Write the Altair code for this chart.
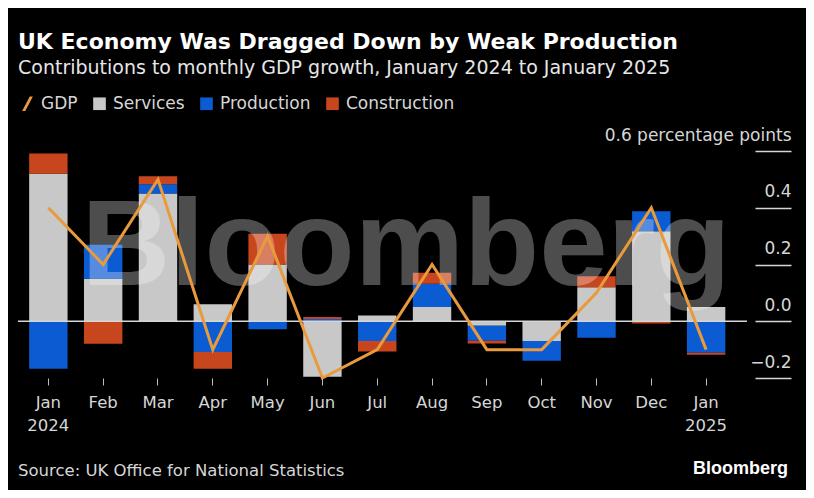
import altair as alt
import pandas as pd

months = ["Jan 2024", "Feb", "Mar", "Apr", "May", "Jun", "Jul", "Aug", "Sep", "Oct", "Nov", "Dec", "Jan 2025"]
services = [0.52, 0.15, 0.45, 0.06, 0.20, -0.196, 0.02, 0.05, -0.016, -0.07, 0.12, 0.317, 0.05]
production = [-0.167, 0.12, 0.033, -0.108, -0.028, 0.008, -0.07, 0.082, -0.053, -0.069, -0.058, 0.071, -0.111]
construction = [0.071, -0.079, 0.028, -0.059, 0.108, 0.007, -0.037, 0.039, -0.009, 0.0, 0.039, -0.008, -0.007]
gdp = [0.4, 0.2, 0.5, -0.1, 0.3, -0.2, -0.1, 0.2, -0.1, -0.1, 0.1, 0.4, -0.1]

series_names = ["GDP", "Services", "Production", "Construction"]
series_colors = ["#e89a3c", "#c8c8c8", "#0b5bd3", "#c8461e"]
y_ticks = [-0.2, 0.0, 0.2, 0.4, 0.6]

rows = []
for i, m in enumerate(months):
    rows.append({"month": m, "series": "Services", "order": 1, "value": services[i]})
    rows.append({"month": m, "series": "Production", "order": 2, "value": production[i]})
    rows.append({"month": m, "series": "Construction", "order": 3, "value": construction[i]})
bars_df = pd.DataFrame(rows)
gdp_df = pd.DataFrame({"month": months, "value": gdp, "series": ["GDP"] * len(months)})

FONT = "DejaVu Sans"
W, H = 729, 227

slash = "M-0.85,1.15 L0.35,-1.15 L0.85,-1.15 L-0.35,1.15 Z"
legend_def = dict(
    title=None, orient="none", legendX=1, legendY=-56, direction="horizontal",
    labelFont=FONT, labelFontSize=17, labelColor="#d6d6d6", symbolSize=160,
    symbolOpacity=1, columnPadding=13, labelOffset=5, padding=0, symbolStrokeWidth=0,
)

x_enc = alt.X(
    "month:N",
    sort=months,
    scale=alt.Scale(paddingInner=0.3, paddingOuter=0.3, align=0.34),
    axis=alt.Axis(
        title=None, domain=False, ticks=True, tickSize=7, tickColor="#bdbdbd", tickWidth=1,
        labelAngle=0, labelExpr="split(datum.value, ' ')", labelFont=FONT, labelFontSize=16.5,
        labelColor="#d6d6d6", labelPadding=9, labelLineHeight=23,
    ),
)
y_scale = alt.Scale(domain=[-0.2, 0.6], nice=False, zero=False)
color_scale = alt.Scale(domain=series_names, range=series_colors)
color_enc = alt.Color("series:N", scale=color_scale, legend=alt.Legend(**legend_def))

bars = alt.Chart(bars_df).mark_bar(size=38.4).encode(
    x=x_enc,
    y=alt.Y(
        "value:Q",
        scale=y_scale,
        stack="zero",
        axis=alt.Axis(
            orient="right", title=None, values=y_ticks, grid=False, domain=False,
            offset=8, tickSize=36, tickColor="#d6d6d6", tickWidth=1.5,
            labelAlign="right", labelBaseline="alphabetic", labelPadding=0, labelOffset=-11,
            labelFont=FONT, labelFontSize=17, labelColor="#d6d6d6", labelLimit=400,
            labelExpr="datum.value == 0.6 ? '0.6 percentage points' : format(datum.value, '.1f')",
            labelOverlap=False, labelBound=False,
        ),
    ),
    color=color_enc,
    order=alt.Order("order:Q"),
)

zero = alt.Chart(pd.DataFrame({"v": [0.0]})).mark_rule(color="#d6d6d6", strokeWidth=1.5).encode(
    y=alt.Y("v:Q", scale=y_scale)
)

watermark = alt.Chart(pd.DataFrame({"t": ["Bloomberg"]})).mark_text(
    font="Liberation Sans", fontWeight="bold", fontSize=123, color="#ffffff", opacity=0.3,
    align="center", baseline="alphabetic",
).encode(text="t:N", x=alt.value(388), y=alt.value(134))

line = alt.Chart(gdp_df).mark_line(strokeWidth=3).encode(
    x=alt.X("month:N", sort=months),
    y=alt.Y("value:Q", scale=y_scale),
    color=color_enc,
)

legend_pts = alt.Chart(bars_df).transform_filter("false").mark_point(filled=True).encode(
    x=alt.X("month:N", sort=months),
    y=alt.Y("value:Q", scale=y_scale),
    color=color_enc,
    shape=alt.Shape(
        "series:N",
        scale=alt.Scale(domain=series_names, range=[slash, "square", "square", "square"]),
        legend=alt.Legend(**legend_def),
    ),
)

source = alt.Chart(pd.DataFrame({"t": ["Source: UK Office for National Statistics"]})).mark_text(
    font=FONT, fontSize=16.5, color="#d6d6d6", align="left", baseline="alphabetic"
).encode(text="t:N", x=alt.value(0), y=alt.value(325))

logo = alt.Chart(pd.DataFrame({"t": ["Bloomberg"]})).mark_text(
    font="Liberation Sans", fontWeight="bold", fontSize=18, color="#ffffff", align="right", baseline="alphabetic"
).encode(text="t:N", x=alt.value(770), y=alt.value(323))

chart = alt.layer(bars, zero, watermark, line, legend_pts, source, logo).properties(
    width=W, height=H,
    autosize=alt.AutoSizeParams(type="none"),
    padding={"left": 10, "top": 143, "right": 59, "bottom": 112},
    background="#000000",
    title=alt.TitleParams(
        text="UK Economy Was Dragged Down by Weak Production",
        subtitle="Contributions to monthly GDP growth, January 2024 to January 2025",
        anchor="start", frame="group", font=FONT, fontSize=22, fontWeight="bold", color="#ffffff",
        subtitleFont=FONT, subtitleFontSize=19, subtitleColor="#e6e6e6", subtitlePadding=5,
        offset=16,
    ),
).configure(font=FONT).configure_view(stroke=None, strokeWidth=0)

chart.save("out.html", embed_options={"renderer": "svg", "actions": False})
